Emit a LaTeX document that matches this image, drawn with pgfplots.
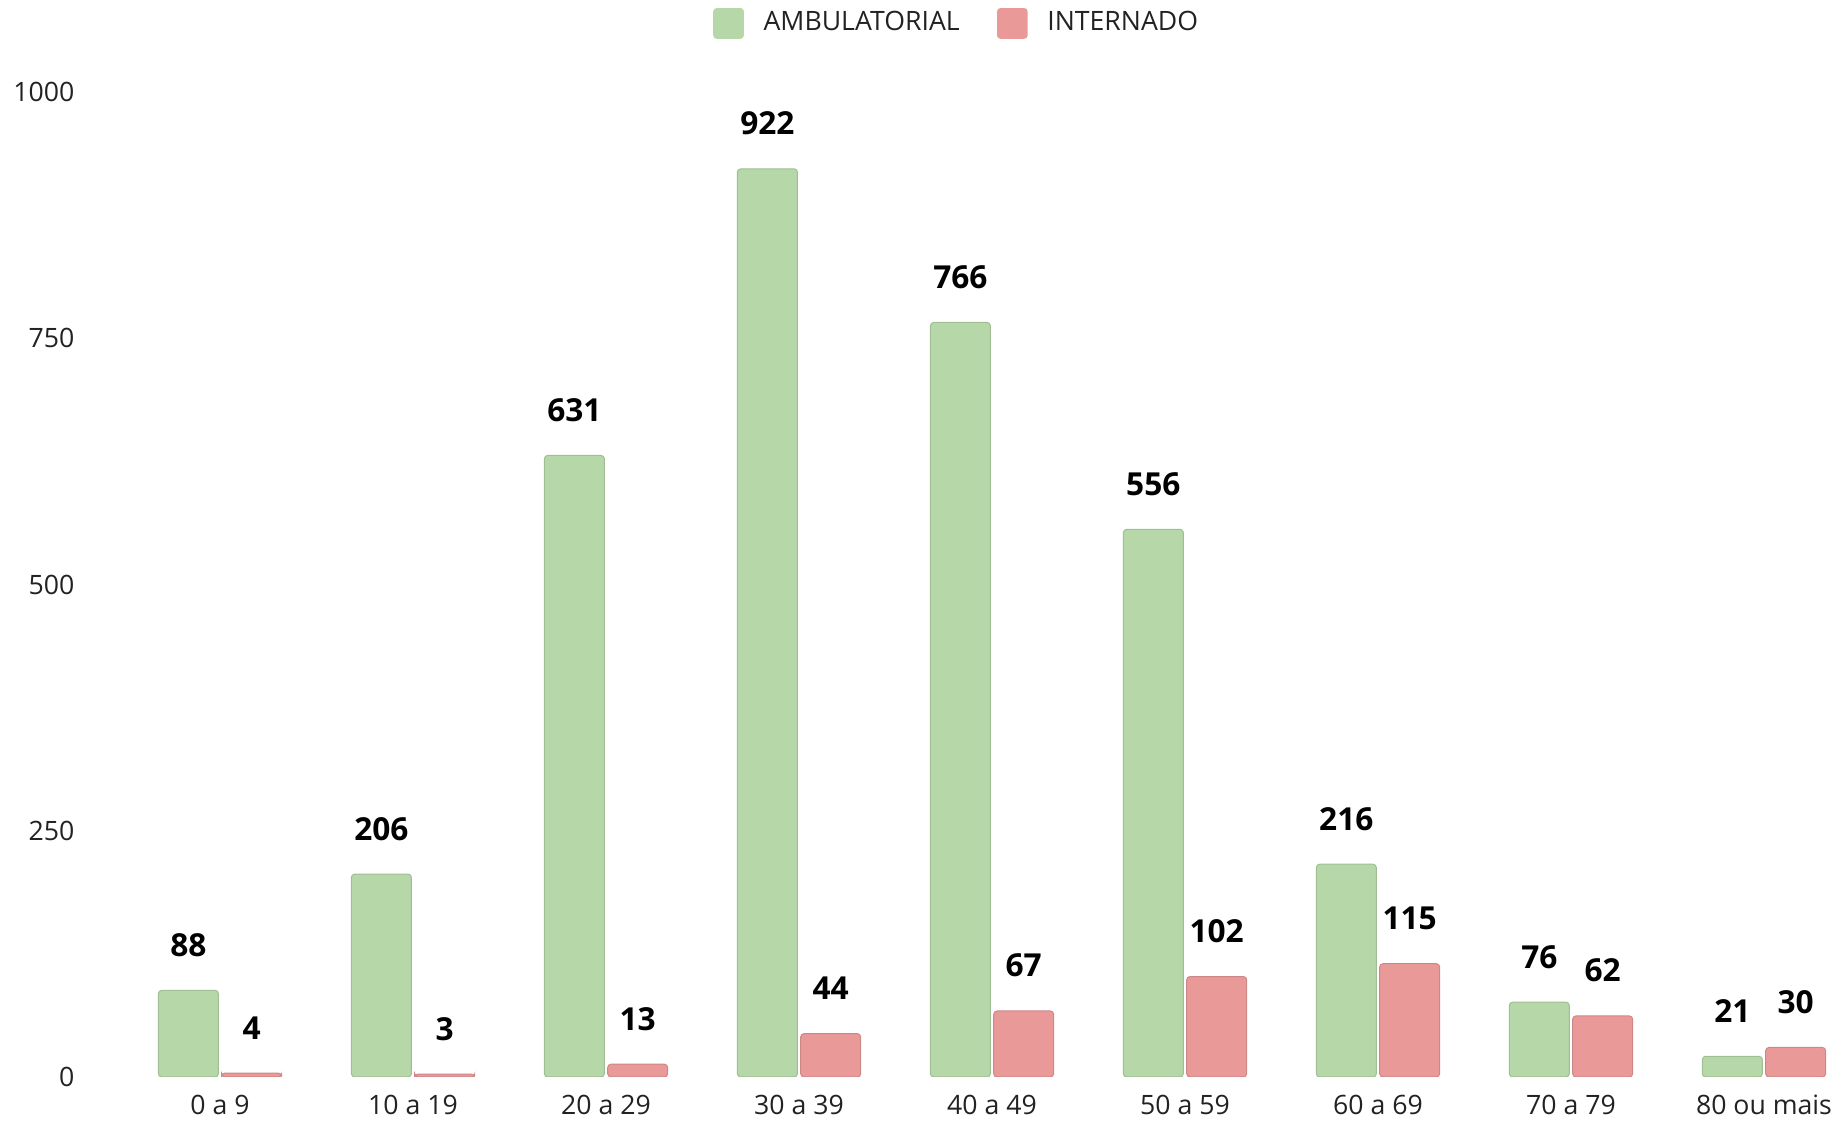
\documentclass[border=0pt]{standalone}
\usepackage{fontspec}
\setmainfont{Open Sans}
\usepackage{pgfplots}
\pgfplotsset{compat=1.18}
\definecolor{amb}{HTML}{B6D7A8}
\definecolor{inter}{HTML}{EA9999}
\definecolor{txt}{HTML}{222222}

\begin{document}
\begin{tikzpicture}
\begin{axis}[
  scale only axis,
  width=523.5pt, height=295.5pt,
  ybar=1pt, bar width=18pt,
  xmin=-0.674, xmax=8.368,
  ymin=0, ymax=1000,
  axis line style={draw=none},
  major tick length=0pt,
  tick style={draw=none},
  xtick={0,1,2,3,4,5,6,7,8},
  xticklabels={0 a 9, 10 a 19, 20 a 29, 30 a 39, 40 a 49, 50 a 59, 60 a 69, 70 a 79, 80 ou mais},
  ytick={0,250,500,750,1000},
  /pgf/number format/assume math mode=true,
  /pgf/number format/1000 sep={},
  tick label style={font=\fontsize{8}{9.6}\selectfont, text=txt},
  yticklabel style={anchor=east, inner sep=0pt, xshift=-4.5pt},
  xticklabel style={anchor=center, inner sep=0pt, yshift=-8.4pt},
  nodes near coords,
  every node near coord/.append style={font=\bfseries\fontsize{9.5}{11}\selectfont, text=black, anchor=center, yshift=13.6pt},
  legend columns=2,
  legend style={at={(0.4980,1.0696)}, anchor=center, draw=none, fill=none,
    font=\fontsize{8}{9.6}\selectfont, text=txt,
    /tikz/every even column/.append style={column sep=9.2pt}},
  legend image code/.code={\fill[#1, draw=none, rounded corners=1pt] (0pt,-4.6pt) rectangle (9.2pt,4.6pt);
    \path[draw=none, fill=none] (9.2pt,0pt) rectangle (13.1pt,0pt);},
]
\addplot[fill=amb, draw=amb!88!black, line width=0.3pt, rounded corners=1pt] coordinates {
  (0,88) (1,206) (2,631) (3,922) (4,766) (5,556) (6,216) (7,76) (8,21)};
\addlegendentry{AMBULATORIAL}
\addplot[fill=inter, draw=inter!88!black, line width=0.3pt, rounded corners=1pt] coordinates {
  (0,4) (1,3) (2,13) (3,44) (4,67) (5,102) (6,115) (7,62) (8,30)};
\addlegendentry{INTERNADO}
\end{axis}
\pgfresetboundingbox
\useasboundingbox (-27pt,-13.2pt) rectangle (527.1pt,323.1pt);
\end{tikzpicture}
\end{document}
